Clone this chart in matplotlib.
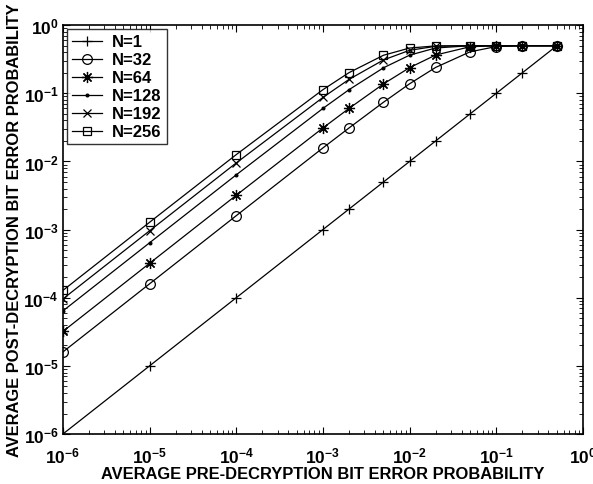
import matplotlib
matplotlib.use('Agg')
import matplotlib.pyplot as plt
from matplotlib.ticker import LogLocator, FuncFormatter
import numpy as np

plt.rcParams['font.family'] = 'Liberation Sans'
plt.rcParams['font.weight'] = 'bold'
plt.rcParams['mathtext.fontset'] = 'custom'
plt.rcParams['mathtext.rm'] = 'Liberation Sans:bold'
plt.rcParams['mathtext.bf'] = 'Liberation Sans:bold'

# pre-decryption BER (x) and post-decryption BER (y) per block size N
p_pre = [1e-6, 1e-5, 1e-4, 1e-3, 2e-3, 5e-3, 1e-2, 2e-2, 5e-2, 1e-1, 2e-1, 5e-1]

ber_n1 = [1e-6, 1e-5, 1e-4, 1e-3, 2e-3, 5e-3, 1e-2, 2e-2, 5e-2, 1e-1, 2e-1, 5e-1]
ber_n32 = [1.6e-5, 1.6e-4, 1.6e-3, 0.0158, 0.031, 0.074, 0.138, 0.240, 0.407, 0.486, 0.4999, 0.5]
ber_n64 = [3.2e-5, 3.2e-4, 3.19e-3, 0.031, 0.060, 0.1375, 0.238, 0.365, 0.483, 0.4996, 0.5, 0.5]
ber_n128 = [6.4e-5, 6.4e-4, 6.36e-3, 0.060, 0.113, 0.237, 0.363, 0.463, 0.4994, 0.5, 0.5, 0.5]
ber_n192 = [9.6e-5, 9.6e-4, 9.51e-3, 0.087, 0.160, 0.309, 0.428, 0.490, 0.5, 0.5, 0.5, 0.5]
ber_n256 = [1.28e-4, 1.28e-3, 0.0126, 0.113, 0.201, 0.362, 0.462, 0.497, 0.5, 0.5, 0.5, 0.5]

labels = ['N=1', 'N=32', 'N=64', 'N=128', 'N=192', 'N=256']
series = [ber_n1, ber_n32, ber_n64, ber_n128, ber_n192, ber_n256]
markers = ['+', 'o', (8, 2, 0), '.', 'x', 's']
msizes = [7, 7, 8, 4, 6, 6]

fig = plt.figure(figsize=(5.93, 4.85), dpi=100)
ax = fig.add_axes([0.106, 0.103, 0.877, 0.843])

for y, lab, m, ms in zip(series, labels, markers, msizes):
    ax.loglog(p_pre, y, color='black', lw=0.9, marker=m, ms=ms,
              mfc='none' if m in ('o', 's') else 'black', mec='black', mew=0.9,
              label=lab)

ax.set_xlim(1e-6, 1)
ax.set_ylim(1e-6, 1)

fmt = FuncFormatter(lambda v, pos: r'$\mathbf{10^{%d}}$' % int(round(np.log10(v))))
ax.xaxis.set_major_locator(LogLocator(base=10, numticks=10))
ax.yaxis.set_major_locator(LogLocator(base=10, numticks=10))
ax.xaxis.set_major_formatter(fmt)
ax.yaxis.set_major_formatter(fmt)
ax.tick_params(which='both', direction='in', top=True, right=True, labelsize=12.5)
ax.tick_params(which='major', length=5, width=0.8)
ax.tick_params(which='minor', length=3, width=0.6)
ax.tick_params(axis='x', pad=8)
ax.tick_params(axis='y', pad=3)
for s in ax.spines.values():
    s.set_linewidth(1.2)

ax.set_xlabel('AVERAGE PRE-DECRYPTION BIT ERROR PROBABILITY', fontsize=11.9,
              fontweight='bold', labelpad=0.5)
ax.set_ylabel('AVERAGE POST-DECRYPTION BIT ERROR PROBABILITY', fontsize=11.9,
              fontweight='bold', labelpad=1)

leg = ax.legend(loc='upper left', fontsize=12, frameon=True, fancybox=False,
                edgecolor='black', handlelength=1.8, borderaxespad=0.25,
                labelspacing=0.18, borderpad=0.3, handletextpad=0.6)
leg.get_frame().set_linewidth(1.0)
for t in leg.get_texts():
    t.set_fontweight('bold')

fig.savefig('out.png', dpi=100)
